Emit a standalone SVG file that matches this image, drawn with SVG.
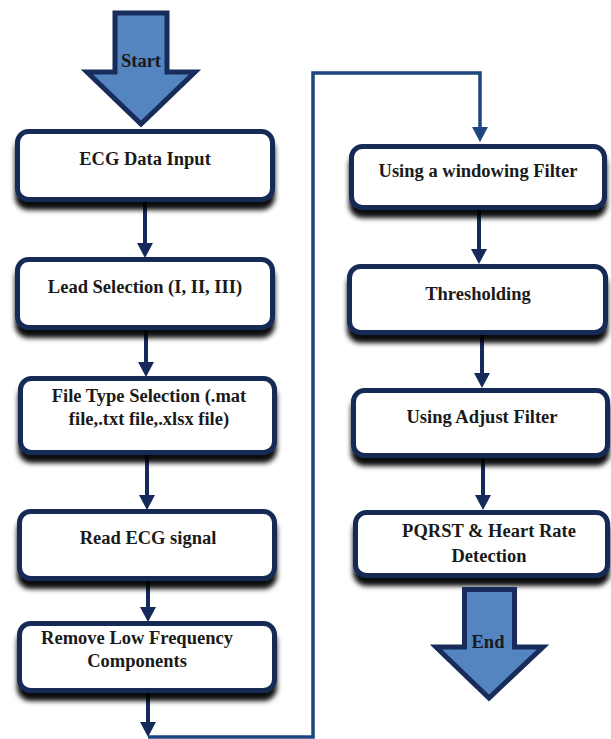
<svg xmlns="http://www.w3.org/2000/svg" width="611" height="739" viewBox="0 0 611 739">
<style>
.box{fill:#fff;stroke:#172a56;stroke-width:5;filter:url(#sh)}
.t{font-family:"Liberation Serif","Times New Roman",serif;font-weight:bold;font-size:18.5px;fill:#1a1a1a;text-anchor:middle}
.c{fill:none;stroke:#15295a;stroke-width:4}
.loop{fill:none;stroke:#1d4580;stroke-width:3.5}
.big{fill:#5585c0;stroke:#172c5a;stroke-width:5;stroke-linejoin:miter}
</style>
<defs>
<filter id="sh" x="-10%" y="-20%" width="120%" height="150%">
<feDropShadow dx="0" dy="8" stdDeviation="2.5" flood-color="#000" flood-opacity="0.95"/>
</filter>
</defs>

<g id="start">
<polygon class="big" points="115,13 167,13 167,72 195,72 141,124 87,72 115,72"/>
<text class="t" x="141" y="67">Start</text>
</g>

<g id="connectors">
<path class="c" d="M145,202 V243"/>
<path class="c" d="M146,330 V362"/>
<path class="c" d="M147,455 V495"/>
<path class="c" d="M148,581 V607"/>
<path class="c" d="M148,693 V723"/>
<path d="M140,722 L156,722 L148,737 Z" fill="#15295a"/>
<path class="loop" d="M148,737 H313 V73 H480 V128"/>
<path d="M472,127 L488,127 L480,142 Z" fill="#1d4580"/>
<path class="c" d="M479,210 V250"/>
<path d="M471,249 L487,249 L479,264 Z" fill="#15295a"/>
<path class="c" d="M482,335 V374"/>
<path d="M474,373 L490,373 L482,388 Z" fill="#15295a"/>
<path class="c" d="M483,458 V496"/>
<path d="M475,495 L491,495 L483,510 Z" fill="#15295a"/>
<path d="M137,243 L153,243 L145,258 Z" fill="#15295a"/>
<path d="M138,362 L154,362 L146,377 Z" fill="#15295a"/>
<path d="M139,495 L155,495 L147,510 Z" fill="#15295a"/>
<path d="M140,607 L156,607 L148,622 Z" fill="#15295a"/>
</g>

<g id="n1"><rect class="box" x="17.5" y="131.5" width="255" height="68" rx="11"/><text class="t" x="145" y="165">ECG Data Input</text></g>
<g id="n2"><rect class="box" x="17.5" y="259.5" width="255" height="68" rx="11"/><text class="t" x="145" y="293">Lead Selection (I, II, III)</text></g>
<g id="n3"><rect class="box" x="20.5" y="378.5" width="254" height="74" rx="11"/><text class="t" x="149" y="402">File Type Selection (.mat</text><text class="t" x="149" y="425">file,.txt file,.xlsx file)</text></g>
<g id="n4"><rect class="box" x="19.5" y="511.5" width="255" height="67" rx="11"/><text class="t" x="148" y="544">Read ECG signal</text></g>
<g id="n5"><rect class="box" x="19.5" y="623.5" width="255" height="67" rx="11"/><text class="t" x="137" y="644">Remove Low Frequency</text><text class="t" x="137" y="667">Components</text></g>

<g id="n6"><rect class="box" x="351.5" y="146.5" width="253" height="61" rx="11"/><text class="t" x="478" y="177">Using a windowing Filter</text></g>
<g id="n7"><rect class="box" x="349.5" y="266.5" width="256" height="66" rx="11"/><text class="t" x="478" y="300">Thresholding</text></g>
<g id="n8"><rect class="box" x="353.5" y="390.5" width="254" height="65" rx="11"/><text class="t" x="482" y="423">Using Adjust Filter</text></g>
<g id="n9"><rect class="box" x="355.5" y="512.5" width="252" height="63" rx="11"/><text class="t" x="489" y="537">PQRST &amp; Heart Rate</text><text class="t" x="489" y="562">Detection</text></g>

<g id="end">
<polygon class="big" points="464.5,589.5 514.5,589.5 514.5,647 543,647 489,698 436,647 464.5,647"/>
<text class="t" x="488" y="648">End</text>
</g>
</svg>
